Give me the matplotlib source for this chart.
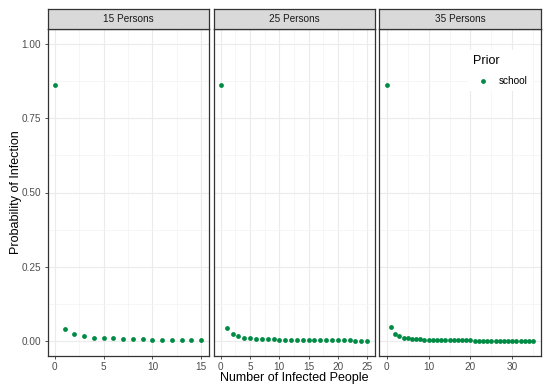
import numpy as np
import matplotlib.pyplot as plt
from matplotlib.ticker import MultipleLocator

plt.rcParams['font.family'] = ['Liberation Sans', 'DejaVu Sans']

# panel titles and group sizes
panels = ['15 Persons', '25 Persons', '35 Persons']
sizes = [15, 25, 35]

# probability of infection
prob_15 = [0.862, 0.042, 0.023, 0.016, 0.012, 0.010, 0.009, 0.008, 0.007,
           0.006, 0.0055, 0.005, 0.0047, 0.0044, 0.0042, 0.004]
prob_25 = [0.862, 0.045, 0.024, 0.016, 0.012, 0.010, 0.0085, 0.0073, 0.0064,
           0.0057, 0.0051, 0.0046, 0.0042, 0.0039, 0.0036, 0.0033, 0.0031,
           0.0029, 0.0027, 0.0026, 0.0024, 0.0023, 0.0022, 0.0021, 0.002,
           0.0019]
prob_35 = [0.862, 0.046, 0.025, 0.017, 0.012, 0.0095, 0.008, 0.0068, 0.0059,
           0.0052, 0.0047, 0.0042, 0.0038, 0.0035, 0.0032, 0.003, 0.0028,
           0.0026, 0.0025, 0.0023, 0.0022, 0.0021, 0.002, 0.0019, 0.0018,
           0.0017, 0.0017, 0.0016, 0.0015, 0.0015, 0.0014, 0.0014, 0.0013,
           0.0013, 0.0012, 0.0012]
series = [prob_15, prob_25, prob_35]
x_major = [5, 5, 10]
y_ticks = [0.0, 0.25, 0.5, 0.75, 1.0]
y_labels = ['0.00', '0.25', '0.50', '0.75', '1.00']
prior = 'school'

W, H = 550, 390
GREEN = '#008B45'
BORDER = '#333333'
GRID = '#EBEBEB'
TXT = '#4D4D4D'

fig = plt.figure(figsize=(W / 100, H / 100), dpi=100)

lefts = [47.5, 213.5, 379.5]
pw = 161
top, bottom = 29, 356
strip_top = 9

for i, (title, n, probs) in enumerate(zip(panels, sizes, series)):
    ax = fig.add_axes([lefts[i] / W, 1 - bottom / H, pw / W,
                       (bottom - top) / H])
    xs = np.arange(len(probs))
    ax.scatter(xs, probs, s=12, color=GREEN, zorder=3, linewidths=0,
               label=prior if i == 2 else None)
    ax.set_xlim(-0.05 * n, 1.05 * n)
    ax.set_ylim(-0.05, 1.05)
    ax.xaxis.set_major_locator(MultipleLocator(x_major[i]))
    ax.xaxis.set_minor_locator(MultipleLocator(x_major[i] / 2))
    ax.set_yticks(y_ticks)
    ax.yaxis.set_minor_locator(MultipleLocator(0.125))
    ax.grid(which='major', color=GRID, linewidth=0.8, zorder=0)
    ax.grid(which='minor', color='#F3F3F3', linewidth=0.5, zorder=0)
    ax.set_axisbelow(True)
    for sp in ax.spines.values():
        sp.set_color(BORDER)
        sp.set_linewidth(0.9)
    ax.tick_params(which='major', length=2.5, width=0.6, color=BORDER,
                   labelcolor=TXT, labelsize=7.2, pad=2)
    ax.tick_params(which='minor', length=0)
    if i == 0:
        ax.set_yticklabels(y_labels)
        ax.set_ylabel('Probability of Infection', fontsize=9, labelpad=-0.5)
    else:
        ax.tick_params(axis='y', which='both', left=False, labelleft=False)

    sax = fig.add_axes([lefts[i] / W, 1 - top / H, pw / W,
                        (top - strip_top) / H])
    sax.set_facecolor('#D9D9D9')
    sax.set_xticks([])
    sax.set_yticks([])
    for sp in sax.spines.values():
        sp.set_color(BORDER)
        sp.set_linewidth(0.9)
    sax.text(0.5, 0.5, title, ha='center', va='center', fontsize=7.2,
             color='#1A1A1A', transform=sax.transAxes)

    if i == 2:
        leg = ax.legend(title='Prior', loc='upper left',
                        bbox_to_anchor=((463 - lefts[2]) / pw,
                                        (bottom - 45) / (bottom - top)),
                        frameon=True, facecolor='white', edgecolor='none',
                        framealpha=1, fontsize=7.2, title_fontsize=9,
                        alignment='left', handletextpad=0.6,
                        labelspacing=0.9, borderpad=0.5, markerscale=1.0)
        leg.get_frame().set_boxstyle('square', pad=0)

fig.text((lefts[0] + lefts[2] + pw) / 2 / W, 1 - 378 / H,
         'Number of Infected People', ha='center', va='center', fontsize=9)

fig.savefig('out.png', dpi=100)
